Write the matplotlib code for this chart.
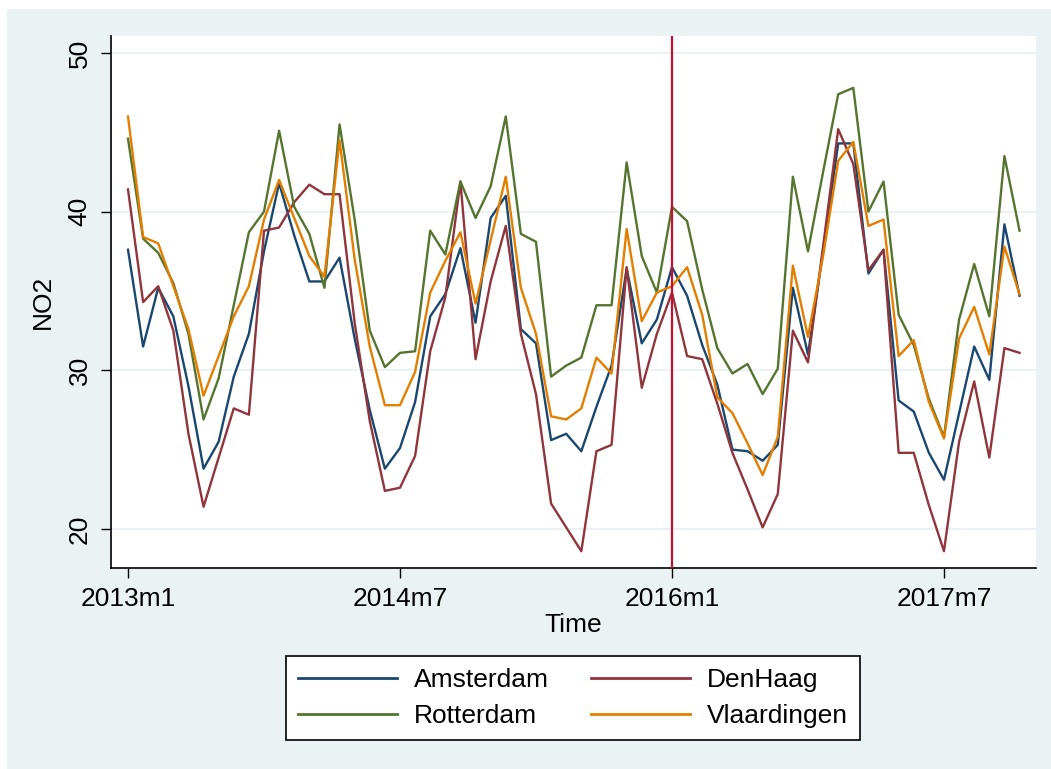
import matplotlib
matplotlib.use("Agg")
import matplotlib.pyplot as plt
from matplotlib.patches import Rectangle
import numpy as np

plt.rcParams['font.family'] = ['Liberation Sans', 'DejaVu Sans']

months = list(range(60))  # 2013m1 .. 2017m12
tick_pos = [0, 18, 36, 54]
tick_labels = ["2013m1", "2014m7", "2016m1", "2017m7"]
y_ticks = [20, 30, 40, 50]

amsterdam = [37.6, 31.5, 35.2, 33.4, 29.0, 23.8, 25.5, 29.6, 32.3, 37.5,
             41.8, 38.5, 35.6, 35.6, 37.1, 32.0, 27.5, 23.8, 25.1, 28.0,
             33.4, 34.8, 37.7, 33.0, 39.6, 41.0, 32.6, 31.7, 25.6, 26.0,
             24.9, 27.7, 30.3, 36.4, 31.7, 33.2, 36.5, 34.7, 31.6, 29.1,
             25.0, 24.9, 24.3, 25.3, 35.2, 31.0, 37.5, 44.3, 44.3, 36.1,
             37.6, 28.1, 27.4, 24.8, 23.1, 27.3, 31.5, 29.4, 39.2, 34.7]
denhaag = [41.4, 34.3, 35.3, 32.5, 26.0, 21.4, 24.5, 27.6, 27.2, 38.8,
           39.0, 40.6, 41.7, 41.1, 41.1, 33.0, 26.8, 22.4, 22.6, 24.6,
           31.2, 34.6, 41.9, 30.7, 35.6, 39.1, 32.3, 28.5, 21.6, 20.1,
           18.6, 24.9, 25.3, 36.5, 28.9, 32.3, 34.9, 30.9, 30.7, 27.9,
           24.8, 22.5, 20.1, 22.2, 32.5, 30.5, 37.8, 45.2, 43.0, 36.3,
           37.6, 24.8, 24.8, 21.5, 18.6, 25.5, 29.3, 24.5, 31.4, 31.1]
rotterdam = [44.6, 38.3, 37.4, 35.5, 32.3, 26.9, 29.5, 34.1, 38.7, 40.0,
             45.1, 40.3, 38.6, 35.2, 45.5, 39.5, 32.5, 30.2, 31.1, 31.2,
             38.8, 37.3, 41.9, 39.6, 41.6, 46.0, 38.6, 38.1, 29.6, 30.3,
             30.8, 34.1, 34.1, 43.1, 37.2, 34.9, 40.3, 39.4, 35.1, 31.4,
             29.8, 30.4, 28.5, 30.1, 42.2, 37.5, 42.5, 47.4, 47.8, 40.0,
             41.9, 33.5, 31.6, 28.2, 25.8, 33.2, 36.7, 33.4, 43.5, 38.8]
vlaardingen = [46.0, 38.4, 38.0, 35.3, 32.6, 28.4, 30.9, 33.4, 35.3, 39.5,
               42.0, 39.6, 37.2, 35.9, 44.5, 37.0, 31.5, 27.8, 27.8, 29.9,
               34.9, 36.9, 38.7, 34.2, 38.2, 42.2, 35.2, 32.3, 27.1, 26.9,
               27.6, 30.8, 29.8, 38.9, 33.1, 34.9, 35.3, 36.5, 33.5, 28.3,
               27.3, 25.4, 23.4, 25.8, 36.6, 32.1, 37.2, 43.2, 44.4, 39.1,
               39.5, 30.9, 31.9, 28.0, 25.7, 32.0, 34.0, 31.0, 37.8, 34.8]
vline_at = 36

W, H = 1051, 769
bg = "#EAF2F3"
fs = 19
fig = plt.figure(figsize=(W/100, H/100), dpi=100, facecolor="white")
fig.patches.append(Rectangle((7/W, 0), 1, 1 - 9/H, transform=fig.transFigure,
                             facecolor=bg, edgecolor="none", zorder=-10))

ax = fig.add_axes([111/W, 1-568/H, (1036-111)/W, (568-36)/H])
ax.set_facecolor("white")

lw = 1.7
h_a, = ax.plot(months, amsterdam, color="#1A476F", lw=lw, label="Amsterdam")
h_d, = ax.plot(months, denhaag, color="#90353B", lw=lw, label="DenHaag")
h_r, = ax.plot(months, rotterdam, color="#55752F", lw=lw, label="Rotterdam")
h_v, = ax.plot(months, vlaardingen, color="#E37E00", lw=lw, label="Vlaardingen")
ax.axvline(vline_at, color="#C8102E", lw=1.6, zorder=5)

ax.set_xlim(-1.125, 60.09)
ax.set_ylim(17.54, 51.07)
ax.set_yticks(y_ticks)
ax.set_yticklabels([str(v) for v in y_ticks], rotation=90, va="center", fontsize=fs)
ax.set_xticks(tick_pos)
ax.set_xticklabels(tick_labels, fontsize=fs)
ax.grid(axis="y", color=bg, lw=1.5, zorder=0)
ax.set_axisbelow(True)
for s in ["top", "right"]:
    ax.spines[s].set_visible(False)
for s in ["left", "bottom"]:
    ax.spines[s].set_color("black")
    ax.spines[s].set_linewidth(1.2)
ax.tick_params(axis="both", direction="out", length=7, width=1, color="black", pad=7)
ax.set_xlabel("Time", fontsize=fs, labelpad=1)
ax.set_ylabel("NO2", fontsize=fs, labelpad=9)

handles = [h_a, h_r, h_d, h_v]
leg = fig.legend(handles, [h.get_label() for h in handles],
                 loc="center", bbox_to_anchor=(573/W, 1-698/H), ncol=2,
                 fontsize=fs, frameon=True, fancybox=False, edgecolor="black",
                 framealpha=1.0,
                 handlelength=3.75, columnspacing=1.6, handletextpad=0.65,
                 borderpad=0.45, labelspacing=0.45)
leg.get_frame().set_linewidth(1.2)
leg.get_frame().set_facecolor("white")
for line in leg.get_lines():
    line.set_linewidth(2.0)

fig.savefig("out.png", dpi=100, facecolor="white")
